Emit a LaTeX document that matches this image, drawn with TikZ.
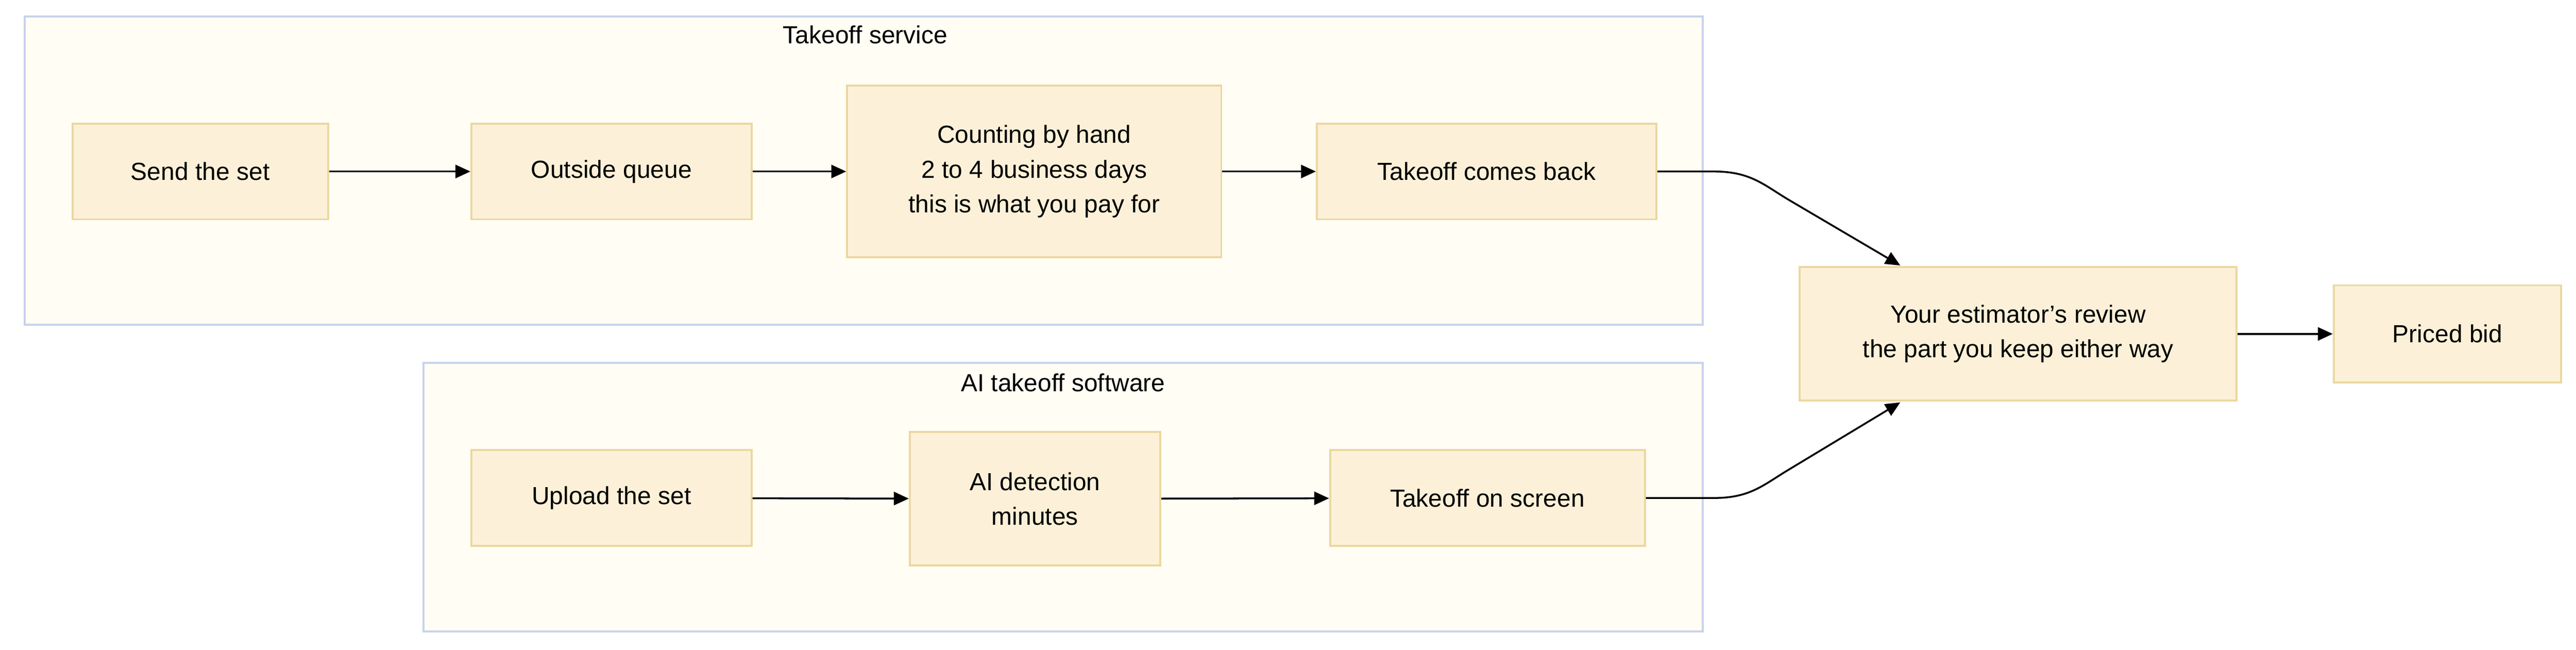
\documentclass[tikz,border=0pt]{standalone}
\usepackage{fontspec}
\setmainfont{Liberation Sans}
\usetikzlibrary{arrows.meta,positioning}
\definecolor{boxfill}{HTML}{FCF1D8}
\definecolor{boxline}{HTML}{EBD7A0}
\definecolor{grpfill}{HTML}{FFFDF4}
\definecolor{grpline}{HTML}{C8D3EC}
\begin{document}
\begin{tikzpicture}[x=1pt,y=-1pt,
  box/.style={draw=boxline,fill=boxfill,line width=1.2pt,align=center,font=\fontsize{15}{21}\selectfont,inner sep=0pt},
  grp/.style={draw=grpline,fill=grpfill,line width=1.2pt},
  ttl/.style={font=\fontsize{15}{18}\selectfont},
  arr/.style={-{Triangle[length=9pt,width=8pt]},line width=1.1pt,black}]
\useasboundingbox (0,0) rectangle (1563,394);
\draw[grp] (15,10) rectangle (1033,197);
\node[ttl] (t1) at (525,21) {Takeoff service};
\draw[grp] (257,220) rectangle (1033,383);
\node[ttl] (t2) at (645,232) {AI takeoff software};
\newcommand{\bx}[6]{\node[box,minimum width=#4-#2,minimum height=#5-#3] (#1) at ({(#2+#4)/2},{(#3+#5)/2}) {#6};}
\bx{a}{44}{75}{199}{133}{Send the set}
\bx{b}{286}{75}{456}{133}{Outside queue}
\bx{c}{514}{52}{741}{156}{Counting by hand\\2 to 4 business days\\this is what you pay for}
\bx{d}{799}{75}{1005}{133}{Takeoff comes back}
\bx{e}{286}{273}{456}{331}{Upload the set}
\bx{f}{552}{262}{704}{343}{AI detection\\minutes}
\bx{g}{807}{273}{998}{331}{Takeoff on screen}
\bx{h}{1092}{162}{1357}{243}{Your estimator's review\\the part you keep either way}
\bx{i}{1416}{173}{1554}{232}{Priced bid}
\draw[arr] (a) -- (b);
\draw[arr] (b) -- (c);
\draw[arr] (c) -- (d);
\draw[arr] (e) -- (f);
\draw[arr] (f) -- (g);
\draw[arr] (h) -- (i);
\coordinate (h1) at (1153,161);
\coordinate (h2) at (1153,244);
\draw[arr] (d.east) -- (1040,104) .. controls (1062,104) and (1070,112) .. (1085,121) -- (h1);
\draw[arr] (g.east) -- (1040,302) .. controls (1062,302) and (1070,294) .. (1085,285) -- (h2);
\end{tikzpicture}
\end{document}
